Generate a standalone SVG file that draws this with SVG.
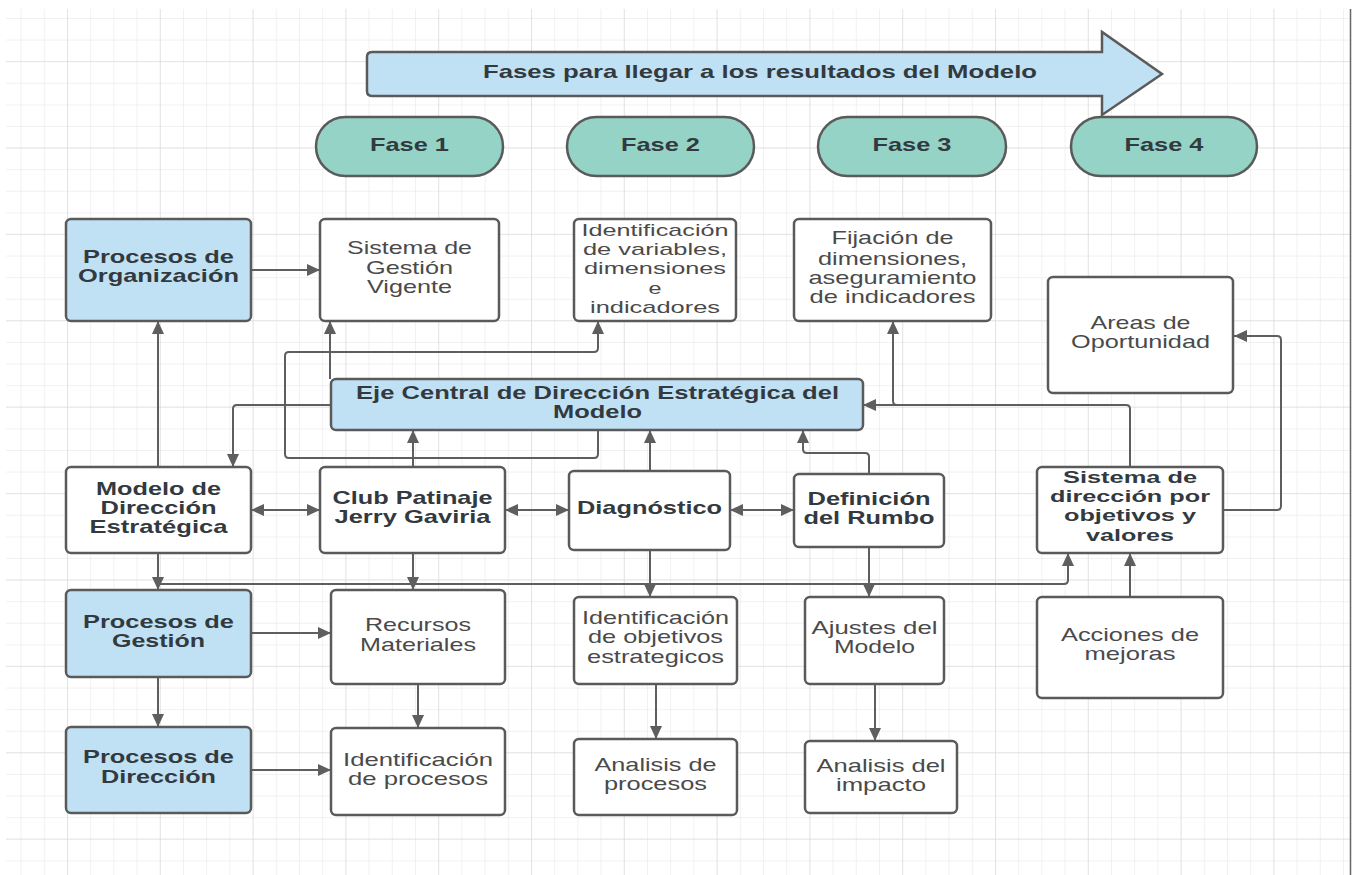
<svg xmlns="http://www.w3.org/2000/svg" width="1355" height="875" viewBox="0 0 1355 875">
<style>
.box{fill:#ffffff;stroke:#5a5a5a;stroke-width:2.5}
.blue{fill:#c0e1f4;stroke:#5a5a5a;stroke-width:2.5}
.pill{fill:#94d3c6;stroke:#5a5a5a;stroke-width:2.5}
.b{font-family:"Liberation Sans",Arial,sans-serif;font-weight:bold;font-size:18.5px;fill:#333a3f;text-anchor:middle}
.r{font-family:"Liberation Sans",Arial,sans-serif;font-size:18.5px;fill:#4a4a4a;text-anchor:middle}
.s{font-size:17px}
.c{fill:none;stroke:#5e5e5e;stroke-width:2}
</style>
<defs>
<pattern id="gminor" x="67" y="18" width="23.2" height="21.6" patternUnits="userSpaceOnUse">
<path d="M0,0 V21.6 M0,0 H23.2" fill="none" stroke="#e4e4e4" stroke-width="1"/>
</pattern>
<pattern id="gmajor" x="67" y="61" width="92.8" height="86.4" patternUnits="userSpaceOnUse">
<path d="M0,0 V86.4 M0,0 H92.8" fill="none" stroke="#d6d6d6" stroke-width="1"/>
</pattern>
<marker id="ah" markerWidth="14" markerHeight="12" refX="13" refY="6" orient="auto-start-reverse" markerUnits="userSpaceOnUse">
<path d="M0,0 L13,6 L0,12 z" fill="#5e5e5e"/>
</marker>
</defs>
<rect x="0" y="0" width="1355" height="875" fill="#ffffff"/>
<rect x="6" y="9" width="1344" height="866" fill="url(#gminor)"/>
<rect x="6" y="9" width="1344" height="866" fill="url(#gmajor)"/>
<line x1="1350.5" y1="9" x2="1350.5" y2="875" stroke="#666" stroke-width="1.5"/>

<g id="header">
<path d="M372,52 H1102 V32 L1162,74 L1102,115 V96 H372 Q367,96 367,91 V57 Q367,52 372,52 Z" class="blue"/>
<text class="b" x="760" y="78" textLength="554" lengthAdjust="spacingAndGlyphs">Fases para llegar a los resultados del Modelo</text>
</g>

<g id="fase1"><rect class="pill" x="316" y="117" width="187" height="59" rx="29.5"/><text class="b" x="409.5" y="151" textLength="79" lengthAdjust="spacingAndGlyphs">Fase 1</text></g>
<g id="fase2"><rect class="pill" x="567" y="117" width="187" height="59" rx="29.5"/><text class="b" x="660.5" y="151" textLength="79" lengthAdjust="spacingAndGlyphs">Fase 2</text></g>
<g id="fase3"><rect class="pill" x="818" y="117" width="188" height="59" rx="29.5"/><text class="b" x="912" y="151" textLength="79" lengthAdjust="spacingAndGlyphs">Fase 3</text></g>
<g id="fase4"><rect class="pill" x="1071" y="117" width="186" height="59" rx="29.5"/><text class="b" x="1164" y="151" textLength="79" lengthAdjust="spacingAndGlyphs">Fase 4</text></g>

<g id="connectors">
<path class="c" d="M251,270 H320" marker-end="url(#ah)"/>
<path class="c" d="M158,467 V321" marker-end="url(#ah)"/>
<path class="c" d="M331,405 H237 Q233,405 233,409 V467" marker-end="url(#ah)"/>
<path class="c" d="M330,379 V321" marker-end="url(#ah)"/>
<path class="c" d="M598,430 V454 Q598,458 594,458 H289 Q285,458 285,454 V356 Q285,352 289,352 H594 Q598,352 598,348 V321" marker-end="url(#ah)"/>
<path class="c" d="M413,467 V430" marker-end="url(#ah)"/>
<path class="c" d="M650,471 V430" marker-end="url(#ah)"/>
<path class="c" d="M869,474 V457 Q869,453 865,453 H807 Q803,453 803,449 V430" marker-end="url(#ah)"/>
<path class="c" d="M1130,467 V409 Q1130,405 1126,405 H863" marker-end="url(#ah)"/>
<path class="c" d="M897,405 Q893,405 893,401 V321" marker-end="url(#ah)"/>
<path class="c" d="M1223,510 H1277 Q1281,510 1281,506 V340 Q1281,336 1277,336 H1234" marker-end="url(#ah)"/>
<path class="c" d="M251,510 H320" marker-start="url(#ah)" marker-end="url(#ah)"/>
<path class="c" d="M505,510 H569" marker-start="url(#ah)" marker-end="url(#ah)"/>
<path class="c" d="M730,510 H794" marker-start="url(#ah)" marker-end="url(#ah)"/>
<path class="c" d="M158,553 V590" marker-end="url(#ah)"/>
<path class="c" d="M158,584 H1064 Q1068,584 1068,580 V553" marker-end="url(#ah)"/>
<path class="c" d="M413,553 V590" marker-end="url(#ah)"/>
<path class="c" d="M650,550 V597" marker-end="url(#ah)"/>
<path class="c" d="M869,547 V597" marker-end="url(#ah)"/>
<path class="c" d="M1130,597 V553" marker-end="url(#ah)"/>
<path class="c" d="M251,633 H331" marker-end="url(#ah)"/>
<path class="c" d="M158,677 V727" marker-end="url(#ah)"/>
<path class="c" d="M418,684 V728" marker-end="url(#ah)"/>
<path class="c" d="M251,770 H331" marker-end="url(#ah)"/>
<path class="c" d="M656,684 V739" marker-end="url(#ah)"/>
<path class="c" d="M875,684 V741" marker-end="url(#ah)"/>
</g>

<g id="procesos-organizacion"><rect class="blue" x="66" y="219" width="185" height="102" rx="5"/>
<text class="b" x="158.5" y="263" textLength="151" lengthAdjust="spacingAndGlyphs">Procesos de</text>
<text class="b" x="158.5" y="282" textLength="161" lengthAdjust="spacingAndGlyphs">Organización</text></g>

<g id="sistema-gestion"><rect class="box" x="320" y="219" width="179" height="102" rx="5"/>
<text class="r" x="409.5" y="254" textLength="125" lengthAdjust="spacingAndGlyphs">Sistema de</text>
<text class="r" x="409.5" y="274" textLength="87" lengthAdjust="spacingAndGlyphs">Gestión</text>
<text class="r" x="409.5" y="293" textLength="85" lengthAdjust="spacingAndGlyphs">Vigente</text></g>

<g id="identificacion-variables"><rect class="box" x="574" y="219" width="162" height="102" rx="5"/>
<text class="r s" x="655" y="236" textLength="147" lengthAdjust="spacingAndGlyphs">Identificación</text>
<text class="r s" x="655" y="255" textLength="144" lengthAdjust="spacingAndGlyphs">de variables,</text>
<text class="r s" x="655" y="274" textLength="142" lengthAdjust="spacingAndGlyphs">dimensiones</text>
<text class="r s" x="655" y="294" textLength="13" lengthAdjust="spacingAndGlyphs">e</text>
<text class="r s" x="655" y="313" textLength="130" lengthAdjust="spacingAndGlyphs">indicadores</text></g>

<g id="fijacion"><rect class="box" x="794" y="219" width="197" height="102" rx="5"/>
<text class="r" x="892.5" y="244" textLength="122" lengthAdjust="spacingAndGlyphs">Fijación de</text>
<text class="r" x="892.5" y="265" textLength="149" lengthAdjust="spacingAndGlyphs">dimensiones,</text>
<text class="r" x="892.5" y="284" textLength="168" lengthAdjust="spacingAndGlyphs">aseguramiento</text>
<text class="r" x="892.5" y="303" textLength="166" lengthAdjust="spacingAndGlyphs">de indicadores</text></g>

<g id="areas-oportunidad"><rect class="box" x="1048" y="277" width="185" height="116" rx="5"/>
<text class="r" x="1140.5" y="329" textLength="100" lengthAdjust="spacingAndGlyphs">Areas de</text>
<text class="r" x="1140.5" y="348" textLength="139" lengthAdjust="spacingAndGlyphs">Oportunidad</text></g>

<g id="eje-central"><rect class="blue" x="331" y="379" width="532" height="51" rx="5"/>
<text class="b" x="597.5" y="399" textLength="483" lengthAdjust="spacingAndGlyphs">Eje Central de Dirección Estratégica del</text>
<text class="b" x="597.5" y="418" textLength="89" lengthAdjust="spacingAndGlyphs">Modelo</text></g>

<g id="modelo-direccion"><rect class="box" x="66" y="467" width="185" height="86" rx="5"/>
<text class="b" x="158.5" y="495" textLength="125" lengthAdjust="spacingAndGlyphs">Modelo de</text>
<text class="b" x="158.5" y="514" textLength="116" lengthAdjust="spacingAndGlyphs">Dirección</text>
<text class="b" x="158.5" y="533" textLength="138" lengthAdjust="spacingAndGlyphs">Estratégica</text></g>

<g id="club"><rect class="box" x="320" y="467" width="185" height="86" rx="5"/>
<text class="b" x="412.5" y="504" textLength="160" lengthAdjust="spacingAndGlyphs">Club Patinaje</text>
<text class="b" x="412.5" y="523" textLength="156" lengthAdjust="spacingAndGlyphs">Jerry Gaviria</text></g>

<g id="diagnostico"><rect class="box" x="569" y="471" width="161" height="79" rx="5"/>
<text class="b" x="649.5" y="514" textLength="145" lengthAdjust="spacingAndGlyphs">Diagnóstico</text></g>

<g id="definicion-rumbo"><rect class="box" x="794" y="474" width="150" height="73" rx="5"/>
<text class="b" x="869" y="505" textLength="123" lengthAdjust="spacingAndGlyphs">Definición</text>
<text class="b" x="869" y="524" textLength="131" lengthAdjust="spacingAndGlyphs">del Rumbo</text></g>

<g id="sistema-direccion"><rect class="box" x="1037" y="467" width="186" height="86" rx="5"/>
<text class="b s" x="1130" y="483" textLength="134" lengthAdjust="spacingAndGlyphs">Sistema de</text>
<text class="b s" x="1130" y="502" textLength="160" lengthAdjust="spacingAndGlyphs">dirección por</text>
<text class="b s" x="1130" y="521" textLength="132" lengthAdjust="spacingAndGlyphs">objetivos y</text>
<text class="b s" x="1130" y="541" textLength="88" lengthAdjust="spacingAndGlyphs">valores</text></g>

<g id="procesos-gestion"><rect class="blue" x="66" y="590" width="185" height="87" rx="5"/>
<text class="b" x="158.5" y="628" textLength="151" lengthAdjust="spacingAndGlyphs">Procesos de</text>
<text class="b" x="158.5" y="647" textLength="93" lengthAdjust="spacingAndGlyphs">Gestión</text></g>

<g id="recursos"><rect class="box" x="331" y="590" width="174" height="94" rx="5"/>
<text class="r" x="418" y="631" textLength="106" lengthAdjust="spacingAndGlyphs">Recursos</text>
<text class="r" x="418" y="651" textLength="116" lengthAdjust="spacingAndGlyphs">Materiales</text></g>

<g id="identificacion-objetivos"><rect class="box" x="574" y="597" width="163" height="87" rx="5"/>
<text class="r" x="655.5" y="624" textLength="147" lengthAdjust="spacingAndGlyphs">Identificación</text>
<text class="r" x="655.5" y="643" textLength="135" lengthAdjust="spacingAndGlyphs">de objetivos</text>
<text class="r" x="655.5" y="663" textLength="137" lengthAdjust="spacingAndGlyphs">estrategicos</text></g>

<g id="ajustes"><rect class="box" x="805" y="597" width="139" height="87" rx="5"/>
<text class="r" x="874.5" y="634" textLength="126" lengthAdjust="spacingAndGlyphs">Ajustes del</text>
<text class="r" x="874.5" y="653" textLength="81" lengthAdjust="spacingAndGlyphs">Modelo</text></g>

<g id="acciones"><rect class="box" x="1037" y="597" width="186" height="101" rx="5"/>
<text class="r" x="1130" y="641" textLength="138" lengthAdjust="spacingAndGlyphs">Acciones de</text>
<text class="r" x="1130" y="660" textLength="91" lengthAdjust="spacingAndGlyphs">mejoras</text></g>

<g id="procesos-direccion"><rect class="blue" x="66" y="727" width="185" height="86" rx="5"/>
<text class="b" x="158.5" y="763" textLength="151" lengthAdjust="spacingAndGlyphs">Procesos de</text>
<text class="b" x="158.5" y="783" textLength="115" lengthAdjust="spacingAndGlyphs">Dirección</text></g>

<g id="identificacion-procesos"><rect class="box" x="331" y="728" width="174" height="87" rx="5"/>
<text class="r" x="418" y="766" textLength="150" lengthAdjust="spacingAndGlyphs">Identificación</text>
<text class="r" x="418" y="785" textLength="140" lengthAdjust="spacingAndGlyphs">de procesos</text></g>

<g id="analisis-procesos"><rect class="box" x="574" y="739" width="163" height="76" rx="5"/>
<text class="r" x="655.5" y="771" textLength="122" lengthAdjust="spacingAndGlyphs">Analisis de</text>
<text class="r" x="655.5" y="790" textLength="103" lengthAdjust="spacingAndGlyphs">procesos</text></g>

<g id="analisis-impacto"><rect class="box" x="805" y="741" width="152" height="72" rx="5"/>
<text class="r" x="881" y="772" textLength="129" lengthAdjust="spacingAndGlyphs">Analisis del</text>
<text class="r" x="881" y="791" textLength="90" lengthAdjust="spacingAndGlyphs">impacto</text></g>
</svg>
